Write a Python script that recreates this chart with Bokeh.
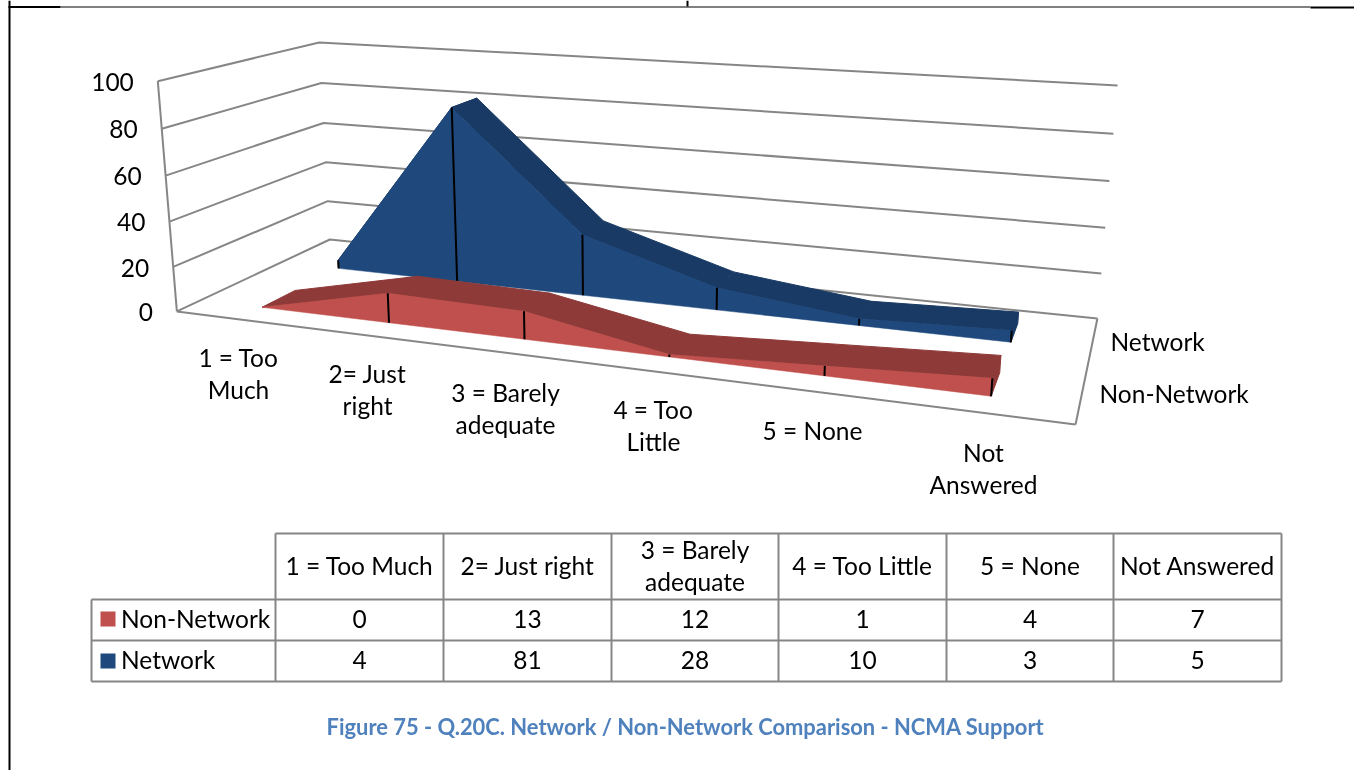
import numpy as np
from bokeh.plotting import figure
from bokeh.core.properties import value
from bokeh.embed import file_html
from bokeh.resources import INLINE

# ---------- data ----------
categories = ["1 = Too Much", "2= Just right", "3 = Barely adequate", "4 = Too Little", "5 = None", "Not Answered"]
non_network = [0, 13, 12, 1, 4, 7]
network = [4, 81, 28, 10, 3, 5]
value_ticks = [0, 20, 40, 60, 80, 100]
value_max = 100

# ---------- colours ----------
GREY = "#868686"
BLUE, BLUE_D = "#1F497D", "#193A64"
RED, RED_D = "#C0504D", "#8E3A38"
FONT = value("Lato")
TXT = "24.5px"

# ---------- camera: box corners (u along categories, d in depth, v up) seen on the page ----------
corr = [((0, 0, 0), (176.7, 311)), ((0, 1, 0), (329, 239)), ((1, 1, 0), (1097, 318)), ((1, 0, 0), (1075, 424)),
        ((0, 0, 1), (157, 80.6)), ((0, 1, 1), (319, 42)), ((1, 1, 1), (1117, 85))]
A, b = [], []
for (u, d, v), (x, y) in corr:
    A.append([u, d, v, 1, 0, 0, 0, 0, -x*u, -x*d, -x*v]); b.append(x)
    A.append([0, 0, 0, 0, u, d, v, 1, -y*u, -y*d, -y*v]); b.append(y)
M = np.append(np.linalg.lstsq(np.array(A, float), np.array(b, float), rcond=None)[0], 1).reshape(3, 4)

def proj(u, d, val):
    h = M @ np.array([u, d, val / value_max, 1.0])
    return h[0] / h[2], h[1] / h[2]

def cat_u(i):
    return (i + 0.5) / len(categories)

def poly(pts):
    return [q[0] for q in pts], [q[1] for q in pts]

p = figure(width=1354, height=770, x_range=(0, 1354), y_range=(770, 0), x_axis_location=None, y_axis_location=None,
           toolbar_location=None, output_backend="svg", min_border=0, outline_line_color=None,
           margin=(0, 0, 0, 0), styles={"position": "fixed", "top": "0", "left": "0"})
p.grid.visible = False

# ---------- page rules ----------
p.segment([9, 8, 60, 1310, 687], [0, 6.5, 6.5, 7, 0], [9, 60, 1310, 1354, 687], [770, 6.5, 6.5, 7, 6],
          line_color="black", line_width=[2, 2, 1, 2, 2])

# ---------- walls ----------
for t in value_ticks:
    xs, ys = poly([proj(0, 0, t), proj(0, 1, t), proj(1, 1, t)])
    p.line(xs, ys, line_color=GREY, line_width=2)
for a, c in [((0, 0, 0), (0, 0, value_max)), ((0, 0, 0), (1, 0, 0)), ((1, 0, 0), (1, 1, 0))]:
    xs, ys = poly([proj(*a), proj(*c)])
    p.line(xs, ys, line_color=GREY, line_width=2)

# ---------- 3-D areas ----------
def area(vals, d0, d1, front, dark):
    n = len(vals)
    for i in range(n - 1):
        xs, ys = poly([proj(cat_u(i), d0, vals[i]), proj(cat_u(i + 1), d0, vals[i + 1]),
                       proj(cat_u(i + 1), d1, vals[i + 1]), proj(cat_u(i), d1, vals[i])])
        p.patch(xs, ys, fill_color=dark, line_color=dark, line_width=1)
    xs, ys = poly([proj(cat_u(n - 1), d0, vals[-1]), proj(cat_u(n - 1), d1, vals[-1]),
                   proj(cat_u(n - 1), d1, 0), proj(cat_u(n - 1), d0, 0)])
    p.patch(xs, ys, fill_color=dark, line_color=dark, line_width=1)
    pts = [proj(cat_u(i), d0, vals[i]) for i in range(n)] + [proj(cat_u(n - 1), d0, 0), proj(cat_u(0), d0, 0)]
    xs, ys = poly(pts)
    p.patch(xs, ys, fill_color=front, line_color=front, line_width=0.5)
    for i in range(n):
        xs, ys = poly([proj(cat_u(i), d0, vals[i]), proj(cat_u(i), d0, 0)])
        p.line(xs, ys, line_color="black", line_width=2)

area(network, 0.65, 0.855, BLUE, BLUE_D)
area(non_network, 0.14, 0.35, RED, RED_D)

# ---------- 3-D axis labels ----------
tick_pts = [proj(0, 0, t) for t in value_ticks]
p.text([q[0] - 24 for q in tick_pts], [q[1] + 0.7 for q in tick_pts], text=[str(t) for t in value_ticks],
       text_font=FONT, text_font_size=TXT, text_color="black", text_align="right", text_baseline="middle")

cat_label_lines = [["1 = Too", "Much"], ["2= Just", "right"], ["3 = Barely", "adequate"], ["4 = Too", "Little"], ["5 = None"], ["Not", "Answered"]]
cat_label_x = [238, 367, 505, 653, 812, 983]
cat_label_y = [357, 373, 392, 409, 430, 452]
tx, ty, tt = [], [], []
for lines, x, y in zip(cat_label_lines, cat_label_x, cat_label_y):
    for k, s in enumerate(lines):
        tx.append(x); ty.append(y + 32 * k); tt.append(s)
p.text(tx, ty, text=tt, text_font=FONT, text_font_size=TXT, text_color="black", text_align="center", text_baseline="middle")
p.text([1110, 1099], [341, 393], text=["Network", "Non-Network"], text_font=FONT, text_font_size=TXT,
       text_color="black", text_align="left", text_baseline="middle")

# ---------- data table ----------
col_x = [275, 443, 611, 778, 946, 1113, 1281]
row_y = [533, 599, 640, 681]
table_left = 91
x0, y0, x1, y1 = [], [], [], []
for i, x in enumerate(col_x):
    x0.append(x); y0.append(row_y[0]); x1.append(x); y1.append(row_y[-1])
for j, y in enumerate(row_y):
    x0.append(table_left if j else col_x[0]); y0.append(y); x1.append(col_x[-1]); y1.append(y)
x0.append(table_left); y0.append(row_y[1]); x1.append(table_left); y1.append(row_y[-1])
p.segment(x0, y0, x1, y1, line_color=GREY, line_width=2)

header_lines = [["1 = Too Much"], ["2= Just right"], ["3 = Barely", "adequate"], ["4 = Too Little"], ["5 = None"], ["Not Answered"]]
tx, ty, tt = [], [], []
for i, lines in enumerate(header_lines):
    cx = (col_x[i] + col_x[i + 1]) / 2
    cy = (row_y[0] + row_y[1]) / 2 - 1
    for k, s in enumerate(lines):
        tx.append(cx); ty.append(cy + (k - (len(lines) - 1) / 2) * 32); tt.append(s)
    tx.append(cx); ty.append((row_y[1] + row_y[2]) / 2 - 1); tt.append(str(non_network[i]))
    tx.append(cx); ty.append((row_y[2] + row_y[3]) / 2 - 1); tt.append(str(network[i]))
p.text(tx, ty, text=tt, text_font=FONT, text_font_size=TXT, text_color="black", text_align="center", text_baseline="middle")

series_names = ["Non-Network", "Network"]
key_colors = [RED, BLUE]
key_top = [611, 653]
p.quad(left=[100, 100], right=[115, 115], top=key_top, bottom=[t + 15 for t in key_top], fill_color=key_colors, line_color=None)
p.text([120.5, 120.5], [618, 659], text=series_names, text_font=FONT, text_font_size=TXT, text_color="black",
       text_align="left", text_baseline="middle")

# ---------- caption ----------
p.text([685], [726], text=["Figure 75 - Q.20C. Network / Non-Network Comparison - NCMA Support"], text_font=FONT,
       text_font_size="21.9px", text_font_style="bold", text_color="#4F81BD", text_align="center", text_baseline="middle")

open("out.html", "w").write(file_html(p, INLINE))
